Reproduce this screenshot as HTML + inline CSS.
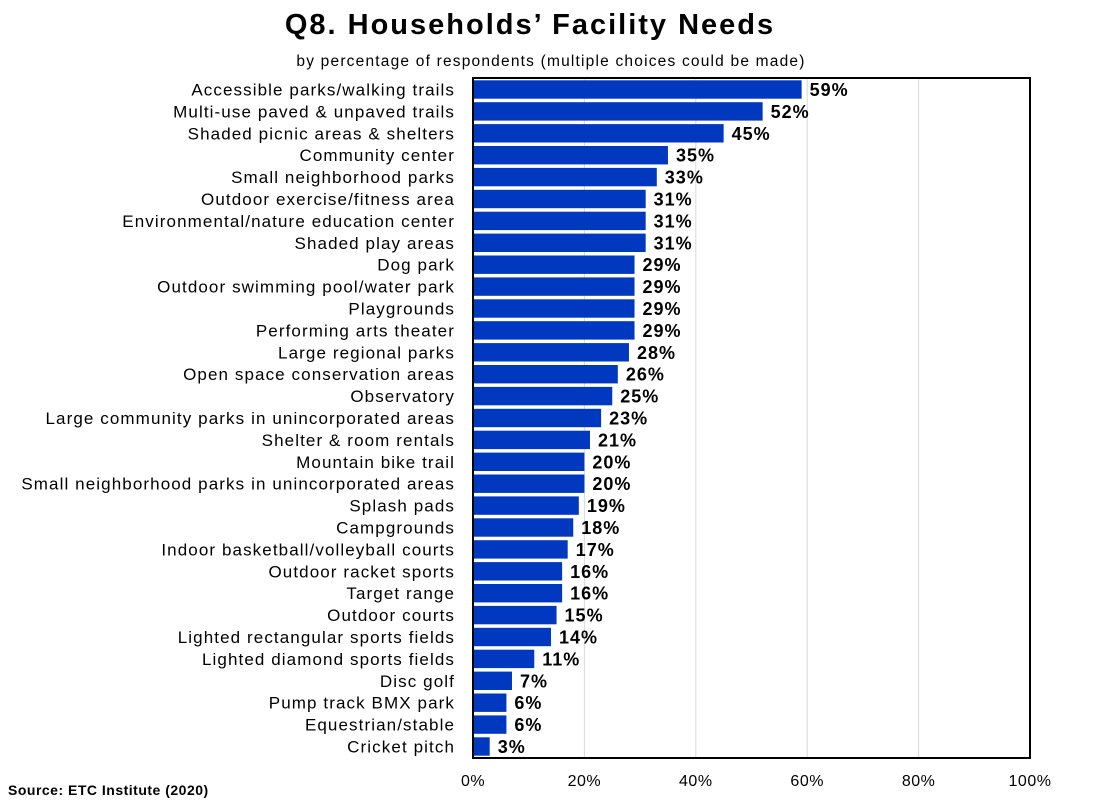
<!DOCTYPE html>
<html><head><meta charset="utf-8"><style>
body{margin:0;background:#fff;width:1102px;height:803px;overflow:hidden;font-family:"Liberation Sans",sans-serif}
</style></head><body>
<svg width="1102" height="803">
<text x="530" y="34" text-anchor="middle" font-size="29" font-weight="bold" letter-spacing="2">Q8. Households’ Facility Needs</text>
<text x="551" y="66" text-anchor="middle" font-size="15.5" letter-spacing="1.2">by percentage of respondents (multiple choices could be made)</text>
<g id="grid"></g><g id="bars"></g>
<rect x="473" y="78" width="557" height="680" fill="none" stroke="#000" stroke-width="2"/>
<text x="8" y="795" font-size="14" font-weight="bold" letter-spacing="0.5">Source:  ETC Institute (2020)</text>
</svg>
<script>
const categories=["Accessible parks/walking trails","Multi-use paved & unpaved trails","Shaded picnic areas & shelters","Community center","Small neighborhood parks","Outdoor exercise/fitness area","Environmental/nature education center","Shaded play areas","Dog park","Outdoor swimming pool/water park","Playgrounds","Performing arts theater","Large regional parks","Open space conservation areas","Observatory","Large community parks in unincorporated areas","Shelter & room rentals","Mountain bike trail","Small neighborhood parks in unincorporated areas","Splash pads","Campgrounds","Indoor basketball/volleyball courts","Outdoor racket sports","Target range","Outdoor courts","Lighted rectangular sports fields","Lighted diamond sports fields","Disc golf","Pump track BMX park","Equestrian/stable","Cricket pitch"];
const values=[59,52,45,35,33,31,31,31,29,29,29,29,28,26,25,23,21,20,20,19,18,17,16,16,15,14,11,7,6,6,3];
const ticks=[0,20,40,60,80,100];
const NS="http://www.w3.org/2000/svg";
const x=v=>473+v/100*557;
const y=i=>89.5+i*21.9;
function mk(t,a,p){const e=document.createElementNS(NS,t);for(const k in a)e.setAttribute(k,a[k]);p.appendChild(e);return e;}
const grid=document.getElementById('grid'),bars=document.getElementById('bars');
ticks.forEach(t=>{
 if(t>0&&t<100){const l=mk('line',{x1:x(t),x2:x(t),y1:78,y2:758,stroke:'#d9d9d9'},grid);
 
 }
 const tx=mk('text',{x:x(t),y:786,'text-anchor':'middle','font-size':16,'letter-spacing':0.5},grid);tx.textContent=t+'%';
 
 
});
categories.forEach((c,i)=>{
 const r=mk('rect',{x:474,y:y(i)-9.2,width:x(values[i])-474,height:18.4,fill:'#0038c0'},bars);
 
 
 const l=mk('text',{x:455,y:y(i)+6,'text-anchor':'end','font-size':17,'letter-spacing':1.1},bars);l.textContent=c;
 
 
 const v=mk('text',{x:x(values[i])+8,y:y(i)+6.5,'font-size':18,'font-weight':'bold','letter-spacing':1},bars);v.textContent=values[i]+'%';
 
 
});
</script>
</body></html>
